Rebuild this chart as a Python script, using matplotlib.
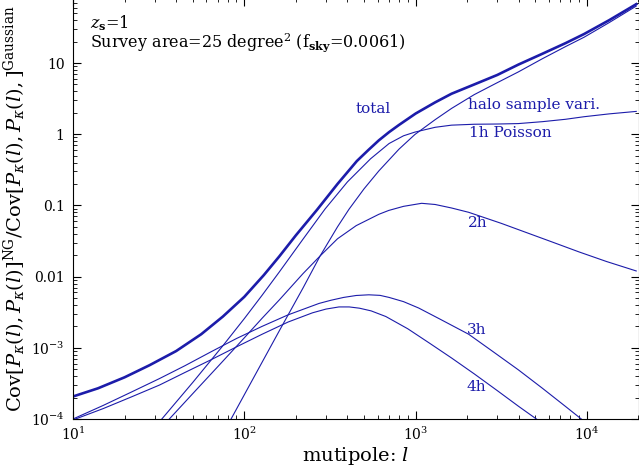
import matplotlib
matplotlib.use('Agg')
import matplotlib.pyplot as plt
from matplotlib.ticker import NullFormatter

plt.rcParams['font.family'] = 'DejaVu Serif'
plt.rcParams['mathtext.fontset'] = 'dejavuserif'

# values (multipole l, covariance ratio)
ell_total = [10, 14, 20, 28, 40, 56, 75, 100, 130, 160, 200, 266, 350, 454, 530, 610,
             700, 800, 1000, 1300, 1620, 2200, 3000, 3980, 5500, 7500, 9620, 13500, 19400]
cov_total = [2.07e-4, 2.7e-4, 3.85e-4, 5.7e-4, 9.0e-4, 1.55e-3, 2.75e-3, 5.2e-3, 0.0105,
             0.0192, 0.038, 0.087, 0.20, 0.42, 0.60, 0.82, 1.07, 1.35, 1.95, 2.8, 3.7,
             5.0, 6.8, 9.5, 13.5, 19.0, 25.5, 40, 67]

ell_halo = [80, 100, 127, 160, 220, 277, 350, 408, 500, 610, 800, 990, 1300, 1620,
            2200, 3000, 3980, 5500, 7500, 9620, 13500, 19400]
cov_halo = [8.2e-5, 2.19e-4, 6.27e-4, 1.73e-3, 6.9e-3, 0.0195, 0.050, 0.088, 0.171, 0.305,
            0.617, 0.99, 1.6, 2.3, 3.6, 5.3, 7.5, 11.5, 17.0, 23.0, 37, 63]

ell_1h = [30, 33, 50, 75, 100, 127, 160, 220, 296, 400, 546, 700, 850, 990, 1300,
          1620, 2200, 3000, 3980, 5500, 7500, 9620, 13500, 19400]
cov_1h = [7.7e-5, 1.0e-4, 3.26e-4, 1.07e-3, 2.57e-3, 5.47e-3, 0.0116, 0.0335, 0.089, 0.214,
          0.452, 0.74, 0.95, 1.07, 1.25, 1.34, 1.38, 1.39, 1.41, 1.50, 1.62, 1.76,
          1.93, 2.09]

ell_2h = [34, 36.5, 50, 75, 100, 127, 160, 220, 277, 350, 450, 610, 697, 850, 1084,
          1300, 1620, 2040, 3160, 4500, 6180, 9000, 13000, 19400]
cov_2h = [8.3e-5, 1.0e-4, 2.27e-4, 6.5e-4, 1.38e-3, 2.6e-3, 4.7e-3, 0.011, 0.0195,
          0.034, 0.052, 0.075, 0.085, 0.097, 0.107, 0.103, 0.092, 0.080, 0.056,
          0.041, 0.031, 0.0222, 0.0163, 0.012]

ell_3h = [10, 15, 22, 32, 45, 64, 90, 127, 180, 273, 320, 380, 450, 533, 620, 700, 850,
          1042, 1400, 2040, 2800, 3980, 5500, 7500, 9270, 10000]
cov_3h = [1.0e-4, 1.55e-4, 2.4e-4, 3.7e-4, 5.6e-4, 8.8e-4, 1.35e-3, 2.0e-3, 2.9e-3,
          4.2e-3, 4.65e-3, 5.1e-3, 5.43e-3, 5.55e-3, 5.45e-3, 5.1e-3, 4.45e-3, 3.62e-3,
          2.5e-3, 1.55e-3, 9.0e-4, 4.9e-4, 2.7e-4, 1.5e-4, 1.0e-4, 8.6e-5]

ell_4h = [10, 15, 22, 32, 45, 64, 90, 127, 180, 250, 300, 357, 410, 470, 550, 670, 900,
          1200, 1620, 2200, 3000, 4000, 5070, 5500]
cov_4h = [9.7e-5, 1.4e-4, 2.05e-4, 3.0e-4, 4.5e-4, 6.8e-4, 1.03e-3, 1.55e-3, 2.3e-3,
          3.1e-3, 3.5e-3, 3.75e-3, 3.75e-3, 3.6e-3, 3.3e-3, 2.75e-3, 1.85e-3, 1.17e-3,
          7.2e-4, 4.3e-4, 2.5e-4, 1.5e-4, 1.0e-4, 8.7e-5]

# curve labels: text, l position, y position
curve_labels = [
    ('total', 448, 2.28),
    ('halo sample vari.', 2010, 2.6),
    ('1h Poisson', 2040, 1.05),
    ('2h', 2010, 0.057),
    ('3h', 1980, 1.8e-3),
    ('4h', 1980, 2.85e-4),
]

blue = '#1c1caa'

fig = plt.figure(figsize=(6.39, 4.66), dpi=100)
ax = fig.add_axes([73 / 639, 47 / 466, 565.5 / 639, 421.5 / 466])

ax.loglog(ell_total, cov_total, color=blue, lw=1.9)
ax.loglog(ell_halo, cov_halo, color=blue, lw=0.8)
ax.loglog(ell_1h, cov_1h, color=blue, lw=0.8)
ax.loglog(ell_2h, cov_2h, color=blue, lw=0.8)
ax.loglog(ell_3h, cov_3h, color=blue, lw=0.8)
ax.loglog(ell_4h, cov_4h, color=blue, lw=0.8)

for txt, lx, ly in curve_labels:
    ax.text(lx, ly, txt, color=blue, fontsize=11, ha='left', va='center')

ax.set_xlim(10, 2e4)
ax.set_ylim(1e-4, 10 ** 1.92)

ax.set_xticks([10, 100, 1e3, 1e4])
ax.set_xticklabels([r'$10^{1}$', r'$10^{2}$', r'$10^{3}$', r'$10^{4}$'])
ax.set_yticks([1e-4, 1e-3, 1e-2, 0.1, 1, 10])
ax.set_yticklabels([r'$10^{-4}$', r'$10^{-3}$', '0.01', '0.1', '1', '10'])
ax.xaxis.set_minor_formatter(NullFormatter())
ax.yaxis.set_minor_formatter(NullFormatter())

ax.tick_params(which='both', direction='in', top=True, right=True)
ax.tick_params(which='major', length=6, width=0.8, labelsize=10)
ax.tick_params(axis='y', which='major', pad=6)
ax.tick_params(axis='x', which='major', pad=5)
ax.tick_params(which='minor', length=3, width=0.6)

ax.set_xlabel(r'mutipole: $l$', fontsize=14, labelpad=1)
ax.set_ylabel(r'Cov$[P_\kappa(l),P_\kappa(l)]^{\rm NG}$/Cov$[P_\kappa(l),P_\kappa(l),]^{\rm Gaussian}$',
              fontsize=14, labelpad=2)

ax.text(0.03, 0.94, r'$z_{\bf s}$=1', transform=ax.transAxes, fontsize=11.5,
        ha='left', va='center')
ax.text(0.03, 0.893, r'Survey area=25 degree$^2$ (f$_{\bf sky}$=0.0061)',
        transform=ax.transAxes, fontsize=11.5, ha='left', va='center')

fig.savefig('out.png', dpi=100)
